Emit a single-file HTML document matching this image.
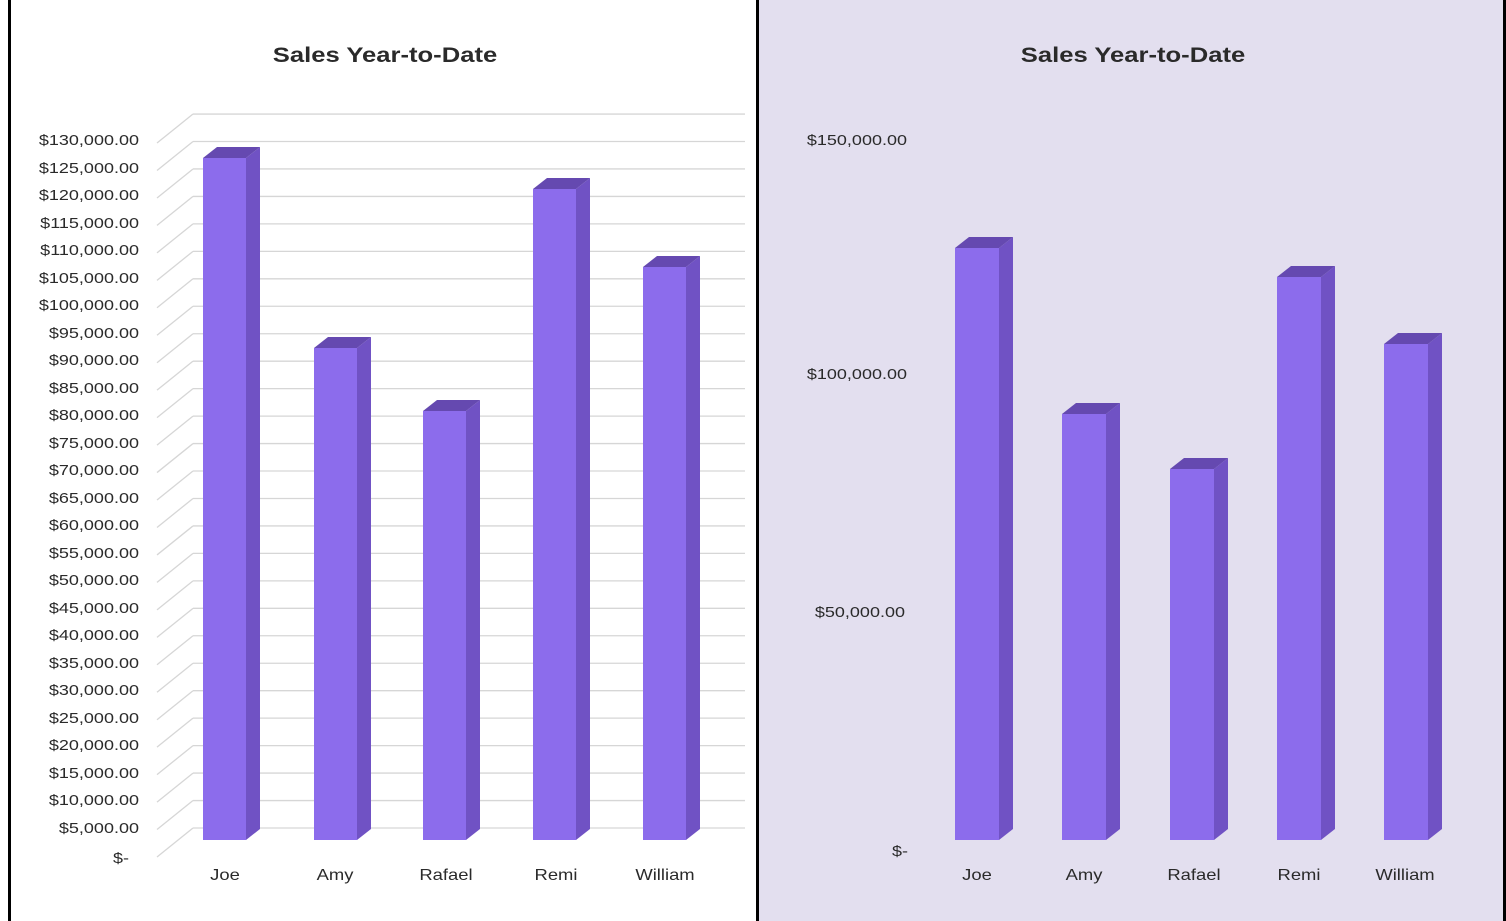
<!DOCTYPE html>
<html><head><meta charset="utf-8"><style>
html,body{margin:0;padding:0;background:#fff}
svg{display:block}
text{font-family:"Liberation Sans",Arial,sans-serif;fill:#2a2a2a}
</style></head><body>
<svg id="s" width="1506" height="921" viewBox="0 0 1506 921" xmlns="http://www.w3.org/2000/svg">
<rect x="0" y="0" width="1506" height="921" fill="#fff"/>
<rect x="758" y="0" width="748" height="921" fill="#e3dfef"/>
<rect x="8" y="0" width="3" height="921" fill="#000"/>
<rect x="756" y="0" width="3" height="921" fill="#000"/>
<rect x="1503" y="0" width="3" height="921" fill="#000"/>
<g id="grid"></g>
<g id="bars"></g>
<g class="st" data-f="1.22">
<text x="385" y="62" font-size="21" font-weight="bold" text-anchor="middle" fill="#222">Sales Year-to-Date</text>
<text x="1133" y="62" font-size="21" font-weight="bold" text-anchor="middle" fill="#222">Sales Year-to-Date</text>
</g>
<g class="st" data-f="1.2" font-size="15" text-anchor="end">
<text x="139" y="145">$130,000.00</text><text x="139" y="173">$125,000.00</text><text x="139" y="200">$120,000.00</text><text x="139" y="228">$115,000.00</text><text x="139" y="255">$110,000.00</text><text x="139" y="283">$105,000.00</text><text x="139" y="310">$100,000.00</text><text x="139" y="338">$95,000.00</text><text x="139" y="365">$90,000.00</text><text x="139" y="393">$85,000.00</text><text x="139" y="420">$80,000.00</text><text x="139" y="448">$75,000.00</text><text x="139" y="475">$70,000.00</text><text x="139" y="503">$65,000.00</text><text x="139" y="530">$60,000.00</text><text x="139" y="558">$55,000.00</text><text x="139" y="585">$50,000.00</text><text x="139" y="613">$45,000.00</text><text x="139" y="640">$40,000.00</text><text x="139" y="668">$35,000.00</text><text x="139" y="695">$30,000.00</text><text x="139" y="723">$25,000.00</text><text x="139" y="750">$20,000.00</text><text x="139" y="778">$15,000.00</text><text x="139" y="805">$10,000.00</text><text x="139" y="833">$5,000.00</text><text x="129" y="863">$-</text>
<text x="907" y="145">$150,000.00</text><text x="907" y="379">$100,000.00</text><text x="905" y="617">$50,000.00</text><text x="908" y="856">$-</text>
</g>
<g class="st" data-f="1.15" font-size="16" text-anchor="middle">
<text x="225" y="880">Joe</text><text x="335" y="880">Amy</text><text x="446" y="880">Rafael</text><text x="556" y="880">Remi</text><text x="665" y="880">William</text>
<text x="977" y="880">Joe</text><text x="1084" y="880">Amy</text><text x="1194" y="880">Rafael</text><text x="1299" y="880">Remi</text><text x="1405" y="880">William</text>
</g>
</svg>
<script>
var NS="http://www.w3.org/2000/svg";
function el(p,t,a){var e=document.createElementNS(NS,t);for(var k in a)e.setAttribute(k,a[k]);document.getElementById(p).appendChild(e);}
for(var i=0;i<=26;i++){var fy=857-i*27.46,by=828-i*27.46;
el("grid","line",{x1:157,y1:fy,x2:193,y2:by,stroke:"#d6d6d6","stroke-width":1.3});
el("grid","line",{x1:193,y1:by,x2:745,y2:by,stroke:"#d6d6d6","stroke-width":1.3});}
function bar(x,w,top){var b=840,dx=14,dy=11;
el("bars","polygon",{points:(x+w)+","+top+" "+(x+w+dx)+","+(top-dy)+" "+(x+w+dx)+","+(b-dy)+" "+(x+w)+","+b,fill:"#7052c4"});
el("bars","polygon",{points:x+","+top+" "+(x+dx)+","+(top-dy)+" "+(x+w+dx)+","+(top-dy)+" "+(x+w)+","+top,fill:"#6549b0"});
el("bars","rect",{x:x,y:top,width:w,height:b-top,fill:"#8c6cec"});}
[[203,158],[314,348],[423,411],[533,189],[643,267]].forEach(function(a){bar(a[0],43,a[1]);});
[[955,248],[1062,414],[1170,469],[1277,277],[1384,344]].forEach(function(a){bar(a[0],44,a[1]);});
document.querySelectorAll("g.st").forEach(function(g){var f=parseFloat(g.getAttribute("data-f"));
g.querySelectorAll("text").forEach(function(t){var l=t.getComputedTextLength();t.setAttribute("textLength",(l*f).toFixed(1));t.setAttribute("lengthAdjust","spacingAndGlyphs");});});
</script>
</body></html>
